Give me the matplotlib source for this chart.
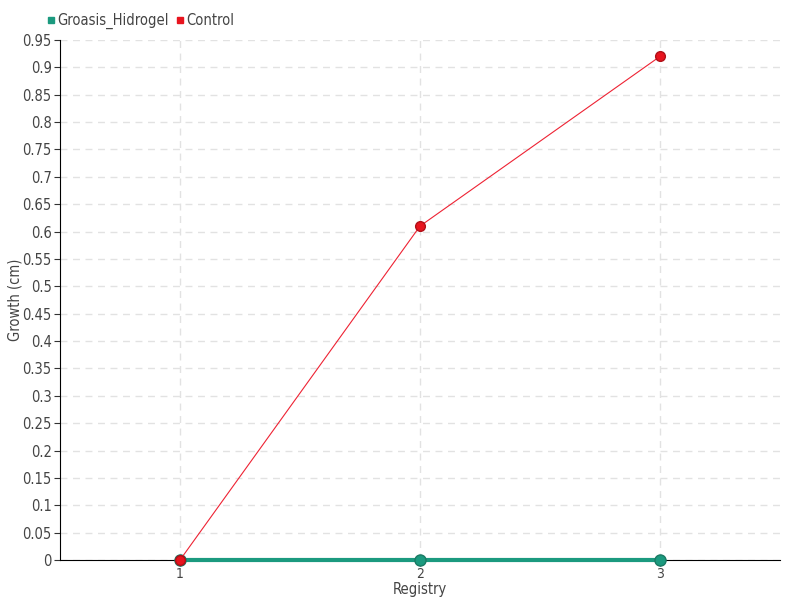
import matplotlib
matplotlib.use('Agg')
import matplotlib.pyplot as plt
from matplotlib import font_manager

registry = [1, 2, 3]
groasis = [0, 0, 0]
control = [0, 0.61, 0.92]
yticks = [round(0.05 * i, 2) for i in range(20)]

# prefer a narrow face if one is installed
stretch_fonts = [f for f in font_manager.fontManager.ttflist
                 if f.name == 'DejaVu Sans' and f.stretch == 'condensed']
names = {f.name for f in font_manager.fontManager.ttflist}
if 'Liberation Sans Narrow' in names:
    plt.rcParams['font.family'] = 'Liberation Sans Narrow'
else:
    plt.rcParams['font.family'] = 'DejaVu Sans'
    if stretch_fonts:
        plt.rcParams['font.stretch'] = 'condensed'

txt = '#444444'
fig = plt.figure(figsize=(8, 6), dpi=100)
ax = fig.add_axes([60/800, 40/600, 720/800, 520/600])

ax.plot(registry, groasis, color='#1b9a7f', lw=3, marker='o', ms=8,
        mec='#1a7a64', label='Groasis_Hidrogel', zorder=3, clip_on=False)
ax.plot(registry, control, color='#ee2233', lw=0.8, marker='o', ms=7,
        mfc='#e8141e', mec='#b01018', label='Control', zorder=4, clip_on=False)

ax.set_xlim(0.5, 3.5)
ax.set_ylim(0, 0.95)
ax.set_xticks(registry)
ax.set_yticks(yticks)
ax.set_yticklabels([('%g' % v) for v in yticks])
ax.tick_params(colors=txt, labelsize=10.5, length=4, pad=2)
ax.tick_params(axis='x', pad=1, labelsize=10)
ax.tick_params(axis='both', color='#333333')
ax.grid(True, ls=(0, (5, 4)), color='#e2e2e2', lw=1)
ax.set_axisbelow(True)
for s in ['top', 'right']:
    ax.spines[s].set_visible(False)
ax.spines['left'].set_color('black')
ax.spines['bottom'].set_color('black')
ax.set_xlabel('Registry', color=txt, fontsize=10.5)
ax.xaxis.set_label_coords(0.5, -22/520)
ax.set_ylabel('Growth (cm)', color=txt, fontsize=10.5)
ax.yaxis.set_label_coords(-37/720, 0.5)

h = [plt.Line2D([], [], ls='none', marker='s', ms=4, color='#1b9a7f'),
     plt.Line2D([], [], ls='none', marker='s', ms=4, color='#e8141e')]
fig.legend(h, ['Groasis_Hidrogel', 'Control'], loc='upper left',
           bbox_to_anchor=(47/800, 1 - 13/600), ncol=2, frameon=False,
           fontsize=10.5, handlelength=0.5, handletextpad=0.2, columnspacing=0.5,
           labelcolor=txt, borderaxespad=0, borderpad=0)

fig.savefig('out.png')
